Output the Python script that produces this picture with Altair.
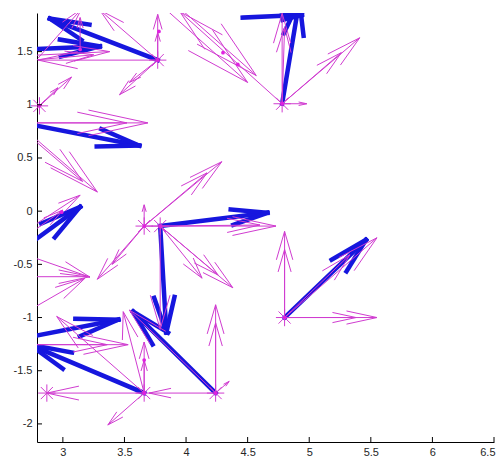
import altair as alt
import pandas as pd

# ---- axes ----
x_ticks = [3, 3.5, 4, 4.5, 5, 5.5, 6, 6.5]
y_ticks = [-2, -1.5, -1, -0.5, 0, 0.5, 1, 1.5]
x_domain = [2.79, 6.5]
y_domain = [-2.17, 1.863]

# ---- thin magenta quiver (start x, start y, u, v) ----
mag_x = [3.77, 3.77, 3.77, 3.77, 3.77, 3.77, 2.49, 2.55, 3.14, 2.80,
         2.81, 2.81, 2.23, 2.30, 2.36, 2.42, 2.69, 2.61,
         3.66, 3.79, 3.66, 3.66, 3.66, 3.66, 3.66, 3.79, 3.79, 3.79, 3.79,
         3.66, 3.66, 4.24, 2.43, 2.52, 2.45, 2.55, 2.55,
         3.66, 3.66, 3.66, 4.24, 4.24, 3.66, 4.24, 4.24,
         4.80, 4.80, 4.80, 4.80, 4.80, 4.80,
         4.78, 4.78, 4.78, 4.78, 4.78, 4.78, 3.41, 3.34]
mag_y = [1.42, 1.42, 1.42, 1.42, 1.42, 1.42, 1.45, 1.40, 1.52, 1.44,
         0.99, 0.99, 0.83, 0.83, 1.10, 1.01, -0.19, -0.31,
         -0.14, -0.14, -0.14, -0.14, -0.14, -0.14, -0.14, -0.14, -0.14, -0.14, -0.14,
         -1.71, -1.71, -1.71, -1.255, -1.255, -0.616, -1.05, -0.35,
         -1.71, -1.71, -1.71, -1.71, -1.71, -1.71, -1.71, -1.71,
         -1.00, -1.00, -1.00, -1.00, -1.00, -1.00,
         1.01, 1.01, 1.01, 1.01, 1.01, 1.01, 2.46, 2.41]
mag_u = [-0.97, 0.0, 0.0, -0.31, -0.23, -0.47, 0.89, 0.70, 0.0, 0.35,
         0.26, 0.15, 1.46, 1.22, 0.92, 0.74, 0.45, 0.39,
         1.07, 0.81, 0.63, 0.51, -0.38, -0.26, 0.0, 0.59, 0.47, 0.34, 0.0,
         -0.71, -0.17, -0.70, 1.10, 0.84, 0.77, 0.63, 0.67,
         -0.295, 0.0, 0.0, 0.0, 0.0, -0.79, -0.54, 0.11,
         0.0, 0.0, 0.75, 0.58, 0.75, 0.53,
         0.0, 0.02, 0.63, 0.48, 0.20, -0.83, 1.16, 1.16]
mag_v = [0.0, 0.43, 0.26, -0.325, -0.21, 0.47, 0.05, 0.07, 0.30, 0.46,
         0.27, 0.17, 0.0, 0.0, -0.92, -0.73, 0.34, 0.32,
         0.0, 0.01, 0.605, 0.50, -0.50, -0.36, 0.20, -0.58, -0.46, -0.49, -0.97,
         0.72, 0.765, 0.78, 0.0, 0.0, 0.0, 0.42, -0.27,
         -0.30, 0.48, 0.31, 0.83, 0.66, 0.0, 0.0, 0.11,
         0.81, 0.64, 0.0, 0.0, 0.75, 0.59,
         0.85, 0.72, 0.62, 0.48, 0.0, 0.865, -1.185, -1.20]

# ---- thick blue quiver ----
blue_x = [3.77, 2.33, 2.35, 2.63, 3.79, 3.79, 4.24, 3.66, 2.45, 4.78, 4.46, 4.80]
blue_y = [1.42, 1.50, -0.63, 0.84, -0.14, -0.14, -1.71, -1.71, -1.245, 1.01, 1.82, -1.00]
blue_u = [-0.875, 0.97, 0.79, 0.99, 0.87, 0.05, -0.67, -0.93, 1.00, 0.14, 0.48, 0.66]
blue_v = [0.39, 0.05, 0.67, -0.224, 0.125, -1.00, 0.765, 0.455, 0.225, 0.97, 0.025, 0.73]

# ---- markers ----
star_x = [3.77, 4.78, 3.66, 3.79, 4.80, 3.66, 4.24, 2.81, 2.87]
star_y = [1.42, 1.01, -0.14, -0.14, -1.00, -1.71, -1.71, 0.99, -1.71]
dot_x = [3.77, 4.78, 3.66, 3.79, 4.80, 3.66, 4.24, 2.81, 3.14, 4.30, 4.42, 3.78, 3.66, 2.99]
dot_y = [1.42, 1.01, -0.14, -0.14, -1.00, -1.71, -1.71, 0.99, 1.52, 1.49, 1.38, 1.69, -1.40, -0.01]

HEAD_LEN = 0.33
HEAD_WID = 0.25
W, H = 457, 429
MAGENTA = "#d03cd0"
BLUE = "#1616de"


def quiver(xs, ys, us, vs):
    rows = []
    a, b = HEAD_LEN, HEAD_WID
    for x, y, u, v in zip(xs, ys, us, vs):
        tx, ty = x + u, y + v
        rows.append({"x": x, "y": y, "x2": tx, "y2": ty})
        rows.append({"x": tx - a * (u + b * v), "y": ty - a * (v - b * u), "x2": tx, "y2": ty})
        rows.append({"x": tx - a * (u - b * v), "y": ty - a * (v + b * u), "x2": tx, "y2": ty})
    return pd.DataFrame(rows)


xs = alt.Scale(domain=x_domain, nice=False, zero=False)
ys = alt.Scale(domain=y_domain, nice=False, zero=False)

x_axis = alt.Axis(values=x_ticks, ticks=False, grid=False, domainColor="black",
                  labelExpr="'' + datum.value", labelFontSize=11, labelColor="#262626",
                  labelFont="Liberation Sans", labelPadding=4, labelFlush=True,
                  labelFlushOffset=1, title=None)
y_axis = alt.Axis(values=y_ticks, ticks=False, grid=False, domainColor="black",
                  labelExpr="'' + datum.value", labelFontSize=11, labelColor="#262626",
                  labelFont="Liberation Sans", labelPadding=5, title=None)


def X(field):
    return alt.X(field, type="quantitative", scale=xs, axis=x_axis)


def Y(field):
    return alt.Y(field, type="quantitative", scale=ys, axis=y_axis)


blue_df = quiver(blue_x, blue_y, blue_u, blue_v)
mag_df = quiver(mag_x, mag_y, mag_u, mag_v)

blue_layer = alt.Chart(blue_df).mark_rule(color=BLUE, strokeWidth=4.5, strokeCap="square", clip=True).encode(
    x=X("x"), y=Y("y"), x2="x2:Q", y2="y2:Q")

mag_layer = alt.Chart(mag_df).mark_rule(color=MAGENTA, strokeWidth=1, clip=True).encode(
    x=X("x"), y=Y("y"), x2="x2:Q", y2="y2:Q")

ASTERISK = "M-1,0L1,0M0,-1L0,1M-0.7,-0.7L0.7,0.7M-0.7,0.7L0.7,-0.7"
stars = alt.Chart(pd.DataFrame({"x": star_x, "y": star_y})).mark_point(
    shape=ASTERISK, size=300, filled=False, color=MAGENTA, strokeWidth=1, opacity=1).encode(
    x=X("x"), y=Y("y"))

dots = alt.Chart(pd.DataFrame({"x": dot_x, "y": dot_y})).mark_circle(
    size=14, color="#e020e0", opacity=1).encode(x=X("x"), y=Y("y"))

xtick_layer = alt.Chart(pd.DataFrame({"x": x_ticks})).mark_rule(color="black", strokeWidth=1).encode(
    x=X("x"), y=alt.value(H), y2=alt.value(H - 5))
ytick_layer = alt.Chart(pd.DataFrame({"y": y_ticks})).mark_rule(color="black", strokeWidth=1).encode(
    y=Y("y"), x=alt.value(0), x2=alt.value(5))

chart = alt.layer(blue_layer, mag_layer, stars, dots, xtick_layer, ytick_layer).properties(
    width=W, height=H,
    autosize=alt.AutoSizeParams(type="none"),
    padding={"left": 29, "top": 5, "right": 2, "bottom": 15},
    background="white",
).configure_view(stroke=None)

chart.save("out.html", embed_options={"renderer": "svg", "actions": False})
